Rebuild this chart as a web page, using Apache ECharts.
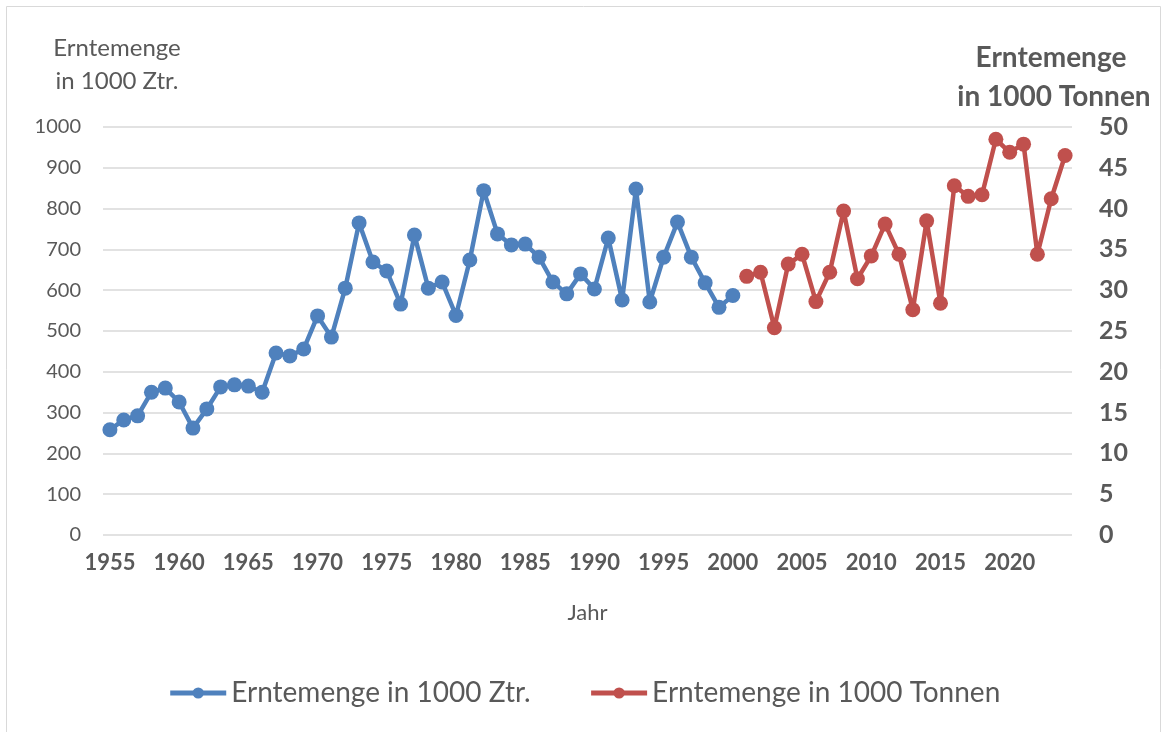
<!DOCTYPE html>
<html>
<head>
<meta charset="utf-8">
<script src="https://cdn.jsdelivr.net/npm/echarts@6/dist/echarts.min.js"></script>
<style>
  html, body { margin: 0; padding: 0; background: #fff; }
  #chart { width: 1168px; height: 732px; }
</style>
</head>
<body>
<div id="chart"></div>
<script>
// Jahre 1955-2024
const years = []
for (let y = 1955; y <= 2024; y++) years.push(String(y))

// 1955-2000, in 1000 Zentner
const ztrValues = [
  258, 282, 292, 350, 360, 326, 262, 309, 363, 368,
  365, 350, 446, 439, 456, 537, 485, 605, 765, 669,
  647, 566, 735, 605, 620, 538, 674, 844, 738, 711,
  713, 681, 620, 591, 640, 603, 728, 576, 848, 571,
  681, 767, 681, 618, 558, 587
]

// 2001-2024, in 1000 Tonnen
const tonValues = [
  31.7, 32.2, 25.4, 33.2, 34.4, 28.6, 32.2, 39.7, 31.4, 34.2,
  38.1, 34.4, 27.6, 38.5, 28.4, 42.8, 41.5, 41.7, 48.5, 46.9,
  47.9, 34.4, 41.2, 46.5
]

const ztrData = ztrValues.concat(new Array(years.length - ztrValues.length).fill(null))
const tonData = new Array(years.length - tonValues.length).fill(null).concat(tonValues)

const FONT = 'Lato, "Open Sans", sans-serif'
const GREY = '#595959'

const chart = echarts.init(document.getElementById('chart'))
chart.setOption({
  animation: false,
  textStyle: { fontFamily: FONT },
  grid: { left: 103, right: 96, top: 127, bottom: 197 },
  graphic: [
    { type: 'rect', shape: { x: 6.5, y: 6.5, width: 1154, height: 730 },
      style: { fill: 'none', stroke: '#d9d9d9', lineWidth: 1 } },
    { type: 'text', x: 117, y: 48,
      style: { text: 'Erntemenge', font: '24px ' + FONT, fill: GREY, align: 'center', verticalAlign: 'middle' } },
    { type: 'text', x: 117, y: 81,
      style: { text: 'in 1000 Ztr.', font: '24px ' + FONT, fill: GREY, align: 'center', verticalAlign: 'middle' } },
    { type: 'text', x: 1051, y: 58,
      style: { text: 'Erntemenge', font: 'bold 28px ' + FONT, fill: GREY, align: 'center', verticalAlign: 'middle' } },
    { type: 'text', x: 1054, y: 97,
      style: { text: 'in 1000 Tonnen', font: 'bold 28px ' + FONT, fill: GREY, align: 'center', verticalAlign: 'middle' } }
  ],
  legend: {
    top: 674,
    left: 'center',
    itemWidth: 56,
    itemHeight: 14,
    itemGap: 58,
    lineStyle: { width: 5 },
    textStyle: { fontSize: 28, color: GREY, fontFamily: FONT },
    data: ['Erntemenge in 1000 Ztr.', 'Erntemenge in 1000 Tonnen']
  },
  xAxis: {
    type: 'category',
    data: years,
    boundaryGap: true,
    name: 'Jahr',
    nameLocation: 'middle',
    nameGap: 67,
    nameTextStyle: { fontSize: 22, color: GREY },
    axisLine: { show: false },
    axisTick: { show: false },
    axisLabel: { interval: 4, fontSize: 22, fontWeight: 'bold', color: GREY, margin: 17 }
  },
  yAxis: [
    {
      type: 'value', min: 0, max: 1000, interval: 100,
      axisLine: { show: false }, axisTick: { show: false },
      axisLabel: { fontSize: 20, color: GREY, margin: 22, formatter: v => String(v) },
      splitLine: { lineStyle: { color: '#d9d9d9', width: 1.5 } }
    },
    {
      type: 'value', min: 0, max: 50, interval: 5, position: 'right',
      axisLine: { show: false }, axisTick: { show: false },
      axisLabel: { fontSize: 25, fontWeight: 'bold', color: GREY, margin: 27, align: 'left' },
      splitLine: { show: false }
    }
  ],
  series: [
    {
      name: 'Erntemenge in 1000 Ztr.',
      type: 'line',
      data: ztrData,
      yAxisIndex: 0,
      symbol: 'circle',
      symbolSize: 15,
      showAllSymbol: true,
      lineStyle: { color: '#4F81BD', width: 4.5 },
      itemStyle: { color: '#4F81BD' }
    },
    {
      name: 'Erntemenge in 1000 Tonnen',
      type: 'line',
      data: tonData,
      yAxisIndex: 1,
      symbol: 'circle',
      symbolSize: 15,
      showAllSymbol: true,
      lineStyle: { color: '#C0504D', width: 4.5 },
      itemStyle: { color: '#C0504D' }
    }
  ]
})
</script>
</body>
</html>
